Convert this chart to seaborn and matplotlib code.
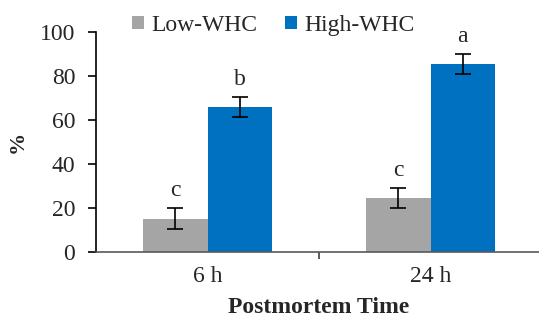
import matplotlib
matplotlib.use("Agg")
import matplotlib.pyplot as plt
import seaborn as sns
import pandas as pd
import numpy as np
from matplotlib.patches import Patch

times = ["6 h", "24 h"]
groups = ["Low-WHC", "High-WHC"]
low_vals = [15.2, 24.4]
high_vals = [66.0, 85.5]
low_err = [4.6, 4.5]
high_err = [4.5, 4.7]
low_letters = ["c", "c"]
high_letters = ["b", "a"]
colors = {"Low-WHC": "#A5A5A5", "High-WHC": "#0070C0"}

df = pd.DataFrame({
    "time": times * 2,
    "group": [groups[0]] * 2 + [groups[1]] * 2,
    "value": low_vals + high_vals,
})

sns.set_style("ticks")
plt.rcParams["font.family"] = ["Liberation Serif", "DejaVu Serif"]
plt.rcParams["mathtext.fontset"] = "stix"
FONT = "Liberation Serif"

fig = plt.figure(figsize=(5.39, 3.2), dpi=100)
ax = fig.add_axes([96 / 539, 68 / 320, 446 / 539, 220 / 320])

sns.barplot(data=df, x="time", y="value", hue="group", order=times,
            hue_order=groups, palette=colors, width=0.575, gap=0,
            errorbar=None, saturation=1, legend=False, ax=ax,
            edgecolor="none", linewidth=0)

errs = [low_err, high_err]
letters = [low_letters, high_letters]
vals = [low_vals, high_vals]
bar_conts = list(ax.containers)
for ci, cont in enumerate(bar_conts):
    for bi, bar in enumerate(cont.patches):
        xc = bar.get_x() + bar.get_width() / 2
        v = vals[ci][bi]
        e = errs[ci][bi]
        ax.errorbar(xc, v, yerr=e, fmt="none", ecolor="black",
                    elinewidth=1.2, capsize=6, capthick=1.2)
        ax.annotate(letters[ci][bi], (xc, v + e), xytext=(0, 5),
                    textcoords="offset points", ha="center", va="bottom",
                    fontsize=17, family=FONT)

ax.set_xlim(-0.5, 1.5)
ax.set_ylim(0, 100)
ax.set_yticks([0, 20, 40, 60, 80, 100])
ax.tick_params(axis="y", labelsize=17, length=6, width=1.2, direction="out",
               color="black", pad=9)
ax.set_xticks([0, 1])
ax.set_xticklabels(times)
ax.tick_params(axis="x", which="major", length=0, labelsize=17, pad=10)
ax.set_xticks([0.5], minor=True)
ax.tick_params(axis="x", which="minor", length=5, width=1.2, color="#404040")
for lab in ax.get_xticklabels() + ax.get_yticklabels():
    lab.set_family(FONT)

for s in ["top", "right"]:
    ax.spines[s].set_visible(False)
ax.spines["left"].set_color("black")
ax.spines["left"].set_linewidth(1.2)
ax.spines["bottom"].set_color("#595959")
ax.spines["bottom"].set_linewidth(1.2)

ax.set_xlabel("Postmortem Time", fontsize=17, fontweight="bold", labelpad=7,
              family=FONT)
ax.set_ylabel("%", fontsize=16, fontweight="bold", labelpad=9, family=FONT)

handles = [Patch(facecolor=colors[g], edgecolor="none", label=g) for g in groups]
fig.legend(handles=handles, loc="center", bbox_to_anchor=(0.507, 0.92),
           ncol=2, frameon=False, prop={"family": FONT, "size": 17},
           handlelength=0.5, handleheight=0.5, handletextpad=0.3,
           columnspacing=1.2, borderaxespad=0, borderpad=0)

fig.savefig("out.png", dpi=100)
